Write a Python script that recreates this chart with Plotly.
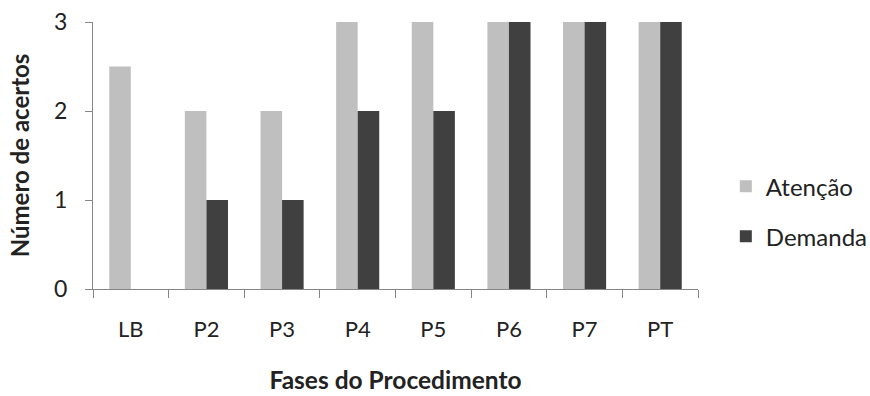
import plotly.graph_objects as go

categories = ["LB", "P2", "P3", "P4", "P5", "P6", "P7", "PT"]
atencao = [2.5, 2, 2, 3, 3, 3, 3, 3]
demanda = [0, 1, 1, 2, 2, 3, 3, 3]
y_ticks = [0, 1, 2, 3]

FONT = "Lato, Open Sans, sans-serif"

fig = go.Figure()
fig.add_trace(go.Bar(
    x=categories, y=atencao, name="Atenção", legendgroup="a",
    marker=dict(color="#bfbfbf", line=dict(width=0)),
))
fig.add_trace(go.Bar(
    x=categories, y=demanda, name="Demanda", legendgroup="d",
    marker=dict(color="#404040", line=dict(width=0)),
))

fig.update_layout(
    width=870, height=396,
    margin=dict(l=93, r=172, t=22, b=107, autoexpand=False),
    paper_bgcolor="white", plot_bgcolor="white",
    barmode="group", bargap=0.43, bargroupgap=0,
    font=dict(family=FONT, size=22, color="#222222"),
    showlegend=True,
    legend=dict(x=1.046, y=0.29, xanchor="left", yanchor="middle",
                font=dict(size=24, color="#222222"), tracegroupgap=16,
                bgcolor="rgba(0,0,0,0)"),
    xaxis=dict(
        automargin=False,
        showline=True, linecolor="#868686", linewidth=1,
        ticks="outside", tickcolor="#868686", ticklen=8, tickson="boundaries",
        ticklabelstandoff=21,
        tickfont=dict(size=22),
        title=dict(text="<b>Fases do Procedimento</b>", standoff=30, font=dict(size=24.5)),
        showgrid=False,
    ),
    yaxis=dict(
        automargin=False,
        range=[0, 3], tickvals=y_ticks,
        showline=True, linecolor="#868686", linewidth=1,
        ticks="outside", tickcolor="#868686", ticklen=7,
        ticklabelstandoff=13,
        showgrid=False, zeroline=False,
        title=dict(text="<b>Número de acertos</b>", standoff=17, font=dict(size=24)),
        tickfont=dict(size=23),
    ),
)

fig.write_html("out.html", config={"displayModeBar": False},
               post_script="document.body.style.margin='0';")
